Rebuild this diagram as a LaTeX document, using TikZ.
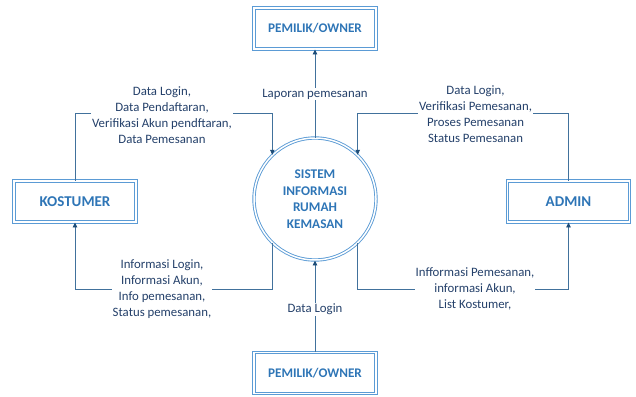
\documentclass[tikz,border=0pt]{standalone}
\usepackage{fontspec}
\setmainfont{Carlito}
\usetikzlibrary{arrows.meta}
\definecolor{boxline}{HTML}{5B9BD5}
\definecolor{boxtext}{HTML}{2E75B6}
\definecolor{flow}{HTML}{41719C}
\definecolor{tipcol}{HTML}{1F4E79}
\definecolor{labeltext}{HTML}{24406A}
\tikzset{
  entity/.style={draw=boxline, double=white, double distance=1.5pt, line width=0.9pt,
    minimum width=122pt, minimum height=41pt, inner sep=0pt,
    text=boxtext, font=\bfseries\fontsize{13.2}{15}\selectfont},
  bigentity/.style={entity, font=\bfseries\fontsize{15}{17}\selectfont},
  process/.style={circle, draw=boxline, double=white, double distance=1.5pt, line width=0.9pt,
    minimum size=122pt, inner sep=0pt, align=center,
    text=boxtext, font=\bfseries\fontsize{13.3}{16.5}\selectfont},
  flowline/.style={draw=flow, line width=0.9pt,
    -{Triangle[length=5pt,width=4.5pt,color=tipcol]}},
  flowlabel/.style={fill=white, inner xsep=1pt, inner ysep=1pt, align=center,
    text=labeltext, font=\fontsize{12.8}{16}\selectfont}
}
\begin{document}
\begin{tikzpicture}[x=1pt,y=-1pt]
\useasboundingbox (0,0) rectangle (636,396);

% external entities and the central process
\node[entity] (ownertop) at (315,28.5) {PEMILIK/OWNER};
\node[bigentity] (kostumer) at (75,201.5) {KOSTUMER};
\node[bigentity] (admin) at (568.5,201.5) {ADMIN};
\node[entity] (ownerbot) at (315,373) {PEMILIK/OWNER};
\node[process] (sistem) at (315,199) {SISTEM\\INFORMASI\\RUMAH\\KEMASAN};

% rows used by the bent flows
\coordinate (toprow) at (0,113);
\coordinate (botrow) at (0,289);

% data flows
\draw[flowline] (kostumer.north) |- (sistem.134 |- toprow) -- (sistem.134);
\draw[flowline] (admin.north) |- (sistem.46 |- toprow) -- (sistem.46);
\draw[flowline] (sistem.-134) |- (kostumer.south |- botrow) -- (kostumer.south);
\draw[flowline] (sistem.-46) |- (admin.south |- botrow) -- (admin.south);
\draw[flowline] (sistem.north) -- (ownertop.south);
\draw[flowline] (ownerbot.north) -- (sistem.south);

% flow labels
\node[flowlabel] (lblkin) at (162,115) {Data Login,\\Data Pendaftaran,\\Verifikasi Akun pendftaran,\\Data Pemesanan};
\node[flowlabel] (lbladmin) at (475.5,114.5) {Data Login,\\Verifikasi Pemesanan,\\Proses Pemesanan\\Status Pemesanan};
\node[flowlabel] (lblkout) at (162,289) {Informasi Login,\\Informasi Akun,\\Info pemesanan,\\Status pemesanan,};
\node[flowlabel] (lbladout) at (475,289) {Infformasi Pemesanan,\\informasi Akun,\\List Kostumer,};
\node[flowlabel] (lbllap) at (315,94) {Laporan pemesanan};
\node[flowlabel] (lbllogin) at (315,309) {Data Login};
\end{tikzpicture}
\end{document}
